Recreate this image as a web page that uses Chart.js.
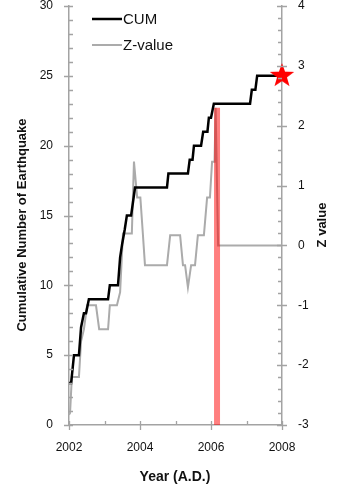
<!DOCTYPE html>
<html><head><meta charset="utf-8">
<script src="https://cdn.jsdelivr.net/npm/chart.js@4.4.1/dist/chart.umd.min.js"></script>
<style>html,body{margin:0;padding:0;background:#fff;}#wrap{width:339px;height:489px;}</style>
</head><body><div id="wrap"><canvas id="c" width="339" height="489"></canvas></div>
<script>
// ---- data ----
const cumYears = [2002.00, 2002.06, 2002.14, 2002.28, 2002.34, 2002.42, 2002.48, 2002.56, 2003.10, 2003.15, 2003.38, 2003.44, 2003.50, 2003.57, 2003.63, 2003.75, 2003.86, 2004.76, 2004.80, 2005.35, 2005.40, 2005.48, 2005.52, 2005.72, 2005.78, 2005.90, 2005.94, 2006.00, 2006.08, 2007.10, 2007.15, 2007.25, 2007.30, 2008.00];
const cumValues = [3, 3, 5, 5, 7, 8, 8, 9, 9, 10, 10, 12, 13, 14, 15, 15, 17, 17, 18, 18, 19, 19, 20, 20, 21, 21, 22, 22, 23, 23, 24, 24, 25, 25];
const zYears = [2002.00, 2002.03, 2002.08, 2002.28, 2002.34, 2002.42, 2002.51, 2002.76, 2002.85, 2003.10, 2003.15, 2003.35, 2003.44, 2003.52, 2003.77, 2003.83, 2003.92, 2004.01, 2004.08, 2004.14, 2004.76, 2004.85, 2005.13, 2005.21, 2005.27, 2005.35, 2005.44, 2005.55, 2005.63, 2005.80, 2005.89, 2005.97, 2006.03, 2006.10, 2006.13, 2006.20, 2008.00];
const zValues = [-2.83, -2.80, -2.20, -2.20, -1.60, -1.40, -1.00, -1.00, -1.40, -1.40, -1.00, -1.00, -0.78, 0.20, 0.20, 1.40, 0.80, 0.80, 0.20, -0.33, -0.33, 0.17, 0.17, -0.33, -0.33, -0.70, -0.33, -0.33, 0.17, 0.17, 0.80, 0.80, 1.40, 1.40, 2.30, 0.00, 0.00];
const peakYears = [2006.17, 2006.17];
const peakZ = [-3, 2.3];
const starYears = [2008];
const starValues = [25];
const seriesNames = ['CUM', 'Z-value'];
const xTitle = 'Year (A.D.)';
const yTitle = 'Cumulative Number of Earthquake';
const y2Title = 'Z value';

const pts = (xs, ys) => xs.map((x, i) => ({x: x, y: ys[i]}));

// star image
const star = document.createElement('canvas');
star.width = 28; star.height = 28;
(function(){
  const g = star.getContext('2d');
  const cx = 14, cy = 14, R = 12.8, r = 5.2;
  g.beginPath();
  for (let i = 0; i < 10; i++) {
    const a = -Math.PI/2 + i*Math.PI/5;
    const rad = i % 2 ? r : R;
    const px = cx + rad*Math.cos(a), py = cy + rad*Math.sin(a);
    i ? g.lineTo(px, py) : g.moveTo(px, py);
  }
  g.closePath();
  g.fillStyle = '#ff0000';
  g.fill();
})();

const AX = '#a3a3a3';
const FONT = "'Liberation Sans', Arial, sans-serif";

const decor = {
  id: 'decor',
  afterDraw(chart) {
    const ctx = chart.ctx;
    const {x, y, y2} = chart.scales;
    const a = chart.chartArea;
    ctx.save();
    ctx.strokeStyle = AX; ctx.lineWidth = 1.3;
    ctx.beginPath();
    for (let v = 0; v <= 30; v++) {
      const py = Math.round(y.getPixelForValue(v)) + 0.5;
      if (v % 5 === 0) { ctx.moveTo(a.left - 5, py); ctx.lineTo(a.left + 4, py); }
      else { ctx.moveTo(a.left, py); ctx.lineTo(a.left + 4, py); }
    }
    for (let k = -15; k <= 20; k++) {
      const py = Math.round(y2.getPixelForValue(k/5)) + 0.5;
      if (k % 5 === 0) { ctx.moveTo(a.right - 5, py); ctx.lineTo(a.right + 5, py); }
      else { ctx.moveTo(a.right - 4, py); ctx.lineTo(a.right, py); }
    }
    for (let v = 2002; v <= 2008; v++) {
      const px = Math.round(x.getPixelForValue(v)) + 0.5;
      if (v % 2 === 0) { ctx.moveTo(px, a.bottom - 4); ctx.lineTo(px, a.bottom + 5); }
      else { ctx.moveTo(px, a.bottom - 4); ctx.lineTo(px, a.bottom); }
    }
    ctx.stroke();

    ctx.fillStyle = '#111';
    ctx.font = "bold 13px " + FONT;
    ctx.textAlign = 'center'; ctx.textBaseline = 'middle';
    ctx.save(); ctx.translate(22, 225); ctx.rotate(-Math.PI/2); ctx.fillText(yTitle, 0, 0); ctx.restore();
    ctx.save(); ctx.translate(322, 225); ctx.rotate(-Math.PI/2); ctx.fillText(y2Title, 0, 0); ctx.restore();
    ctx.font = "bold 14px " + FONT;
    ctx.fillText(xTitle, 175, 477);

    const ds = chart.data.datasets;
    const rows = [[ds[1], 19], [ds[3], 45]];
    ctx.font = "15px " + FONT;
    ctx.textAlign = 'left';
    rows.forEach(([d, ly]) => {
      ctx.strokeStyle = d.borderColor; ctx.lineWidth = d.borderWidth;
      ctx.beginPath(); ctx.moveTo(92, ly); ctx.lineTo(122, ly); ctx.stroke();
      ctx.fillStyle = '#111';
      ctx.fillText(d.label, 123, ly + 1);
    });
    ctx.restore();
  }
};

const noVPad = s => { s.paddingTop = 0; s.paddingBottom = 0; };

new Chart(document.getElementById('c'), {
  type: 'line',
  data: {
    datasets: [
      { label: 'star', data: pts(starYears, starValues), yAxisID: 'y', showLine: false,
        pointStyle: star, pointRadius: 13, clip: false, borderColor: 'red', backgroundColor: 'red' },
      { label: seriesNames[0], data: pts(cumYears, cumValues), yAxisID: 'y', borderColor: '#000',
        borderWidth: 2.5, pointRadius: 0, tension: 0, borderJoinStyle: 'miter', clip: false },
      { label: 'peak', data: pts(peakYears, peakZ), yAxisID: 'y2', borderColor: 'rgba(255,0,0,0.5)',
        borderWidth: 6, borderCapStyle: 'butt', pointRadius: 0 },
      { label: seriesNames[1], data: pts(zYears, zValues), yAxisID: 'y2', borderColor: '#ababab',
        borderWidth: 2, pointRadius: 0, tension: 0, clip: false }
    ]
  },
  options: {
    responsive: false, animation: false, devicePixelRatio: 1,
    layout: { autoPadding: false, padding: { top: 6, left: 0, right: 0, bottom: 0 } },
    plugins: { legend: { display: false }, tooltip: { enabled: false } },
    scales: {
      x: { type: 'linear', min: 2002, max: 2008,
        grid: { display: false, drawTicks: false }, border: { color: AX, width: 1.5 },
        ticks: { stepSize: 2, padding: 15, color: '#111', font: { family: FONT, size: 12 }, callback: v => String(v) },
        afterFit: s => { s.height = 64; } },
      y: { position: 'left', min: 0, max: 30,
        grid: { display: false, drawTicks: false }, border: { color: AX, width: 1.5 },
        ticks: { stepSize: 5, padding: 16, color: '#111', font: { family: FONT, size: 12 } },
        afterFit: s => { s.width = 69; noVPad(s); } },
      y2: { position: 'right', min: -3, max: 4,
        grid: { display: false, drawTicks: false }, border: { color: AX, width: 1.5 },
        ticks: { stepSize: 1, padding: 16, color: '#111', font: { family: FONT, size: 12 } },
        afterFit: s => { s.width = 57; noVPad(s); } }
    }
  },
  plugins: [decor]
});
</script></body></html>
